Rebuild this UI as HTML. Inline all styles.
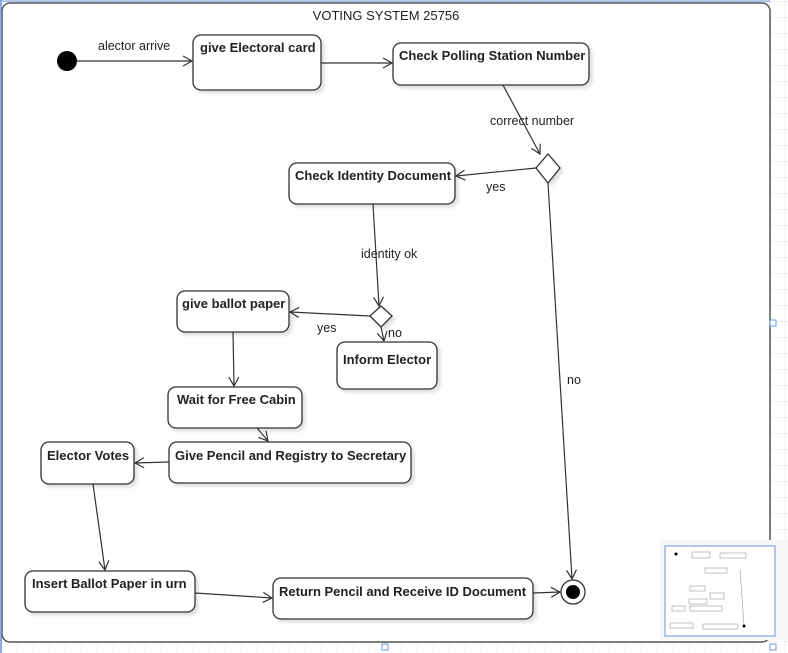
<!DOCTYPE html>
<html><head><style>
html,body{margin:0;padding:0;width:788px;height:653px;overflow:hidden;background:#fff;}
svg{display:block}
text{font-family:"Liberation Sans",Arial,sans-serif;fill:#222}
.b{font-weight:bold;font-size:13px}
.l{font-size:12.5px}
</style></head><body>
<svg width="788" height="653" viewBox="0 0 788 653">
<defs>
<pattern id="g" width="16" height="16" patternUnits="userSpaceOnUse" x="2" y="2">
<path d="M16 0V16H0" fill="none" stroke="#dde6f0" stroke-width="1"/>
</pattern>
<marker id="a" markerWidth="12" markerHeight="12" refX="10" refY="6" orient="auto" markerUnits="userSpaceOnUse">
<path d="M1 1L10 6L1 11" fill="none" stroke="#333" stroke-width="1.2"/>
</marker>
<filter id="s" x="-10%" y="-10%" width="130%" height="140%"><feDropShadow dx="3" dy="3" stdDeviation="1.5" flood-color="#000" flood-opacity="0.12"/></filter>
</defs>
<rect width="788" height="653" fill="url(#g)"/>
<rect x="2" y="3" width="768" height="639" rx="8" fill="#fff" stroke="#555" stroke-width="1.5"/>
<line x1="1" y1="0" x2="1" y2="653" stroke="#6b94d8" stroke-width="1.5"/>
<line x1="0" y1="1" x2="770" y2="1" stroke="#6b94d8" stroke-width="1"/>
<text x="386" y="20" text-anchor="middle" font-size="13">VOTING SYSTEM 25756</text>

<g fill="#fff" stroke="#333" stroke-width="1.3" filter="url(#s)">
<rect x="193" y="35" width="128" height="55" rx="8"/>
<rect x="393" y="43" width="196" height="42" rx="8"/>
<rect x="289" y="163" width="166" height="41" rx="8"/>
<rect x="177" y="291" width="112" height="41" rx="8"/>
<rect x="337" y="342" width="100" height="47" rx="8"/>
<rect x="168" y="387" width="134" height="41" rx="8"/>
<rect x="169" y="442" width="242" height="41" rx="8"/>
<rect x="41" y="442" width="93" height="42" rx="8"/>
<rect x="25" y="571" width="170" height="41" rx="8"/>
<rect x="273" y="578" width="260" height="41" rx="8"/>
<path d="M548 154L560 168L548 183L536 168Z"/>
<path d="M381 306L392 316L381 327L370 316Z"/>
</g>
<circle cx="67" cy="61" r="10" fill="#000"/>
<circle cx="573" cy="592" r="12" fill="#fff" stroke="#333" stroke-width="1.3"/>
<circle cx="573" cy="592" r="7" fill="#000"/>

<g stroke="#333" stroke-width="1.2" fill="none" marker-end="url(#a)">
<line x1="77" y1="61" x2="192" y2="61"/>
<line x1="321" y1="63" x2="392" y2="63"/>
<line x1="503" y1="85" x2="540" y2="154"/>
<line x1="536" y1="168" x2="456" y2="176"/>
<line x1="373" y1="204" x2="379" y2="306"/>
<line x1="370" y1="316" x2="290" y2="312"/>
<line x1="381" y1="327" x2="384" y2="341"/>
<line x1="233" y1="332" x2="234" y2="386"/>
<line x1="257" y1="428" x2="268" y2="441"/>
<line x1="169" y1="462" x2="135" y2="463"/>
<line x1="93" y1="484" x2="105" y2="570"/>
<line x1="195" y1="593" x2="272" y2="598"/>
<line x1="533" y1="593" x2="560" y2="592"/>
<line x1="548" y1="183" x2="572" y2="579"/>
</g>

<g class="b">
<text x="200" y="52">give Electoral card</text>
<text x="399" y="60">Check Polling Station Number</text>
<text x="295" y="180">Check Identity Document</text>
<text x="182" y="308">give ballot paper</text>
<text x="343" y="364">Inform Elector</text>
<text x="177" y="404">Wait for Free Cabin</text>
<text x="175" y="460">Give Pencil and Registry to Secretary</text>
<text x="47" y="460">Elector Votes</text>
<text x="32" y="588">Insert Ballot Paper in urn</text>
<text x="279" y="596">Return Pencil and Receive ID Document</text>
</g>
<g class="l">
<text x="98" y="50">alector arrive</text>
<text x="490" y="125">correct number</text>
<text x="486" y="191">yes</text>
<text x="361" y="258">identity ok</text>
<text x="317" y="332">yes</text>
<text x="388" y="337">no</text>
<text x="567" y="384">no</text>
</g>

<rect x="660" y="540" width="128" height="100" fill="#f6f6f6"/>
<rect x="665" y="546" width="110" height="90" fill="#fff" stroke="#6b94d8" stroke-width="1"/>
<g stroke="#999" stroke-width="0.6" fill="none">
<rect x="692" y="552" width="18" height="6"/><rect x="720" y="553" width="26" height="5"/>
<rect x="705" y="568" width="22" height="5"/><rect x="690" y="586" width="15" height="5"/>
<rect x="710" y="593" width="14" height="6"/><rect x="689" y="599" width="18" height="5"/>
<rect x="690" y="606" width="32" height="5"/><rect x="672" y="606" width="13" height="5"/>
<rect x="670" y="623" width="23" height="5"/><rect x="703" y="624" width="35" height="5"/>
<line x1="740" y1="570" x2="744" y2="625"/>
</g>
<circle cx="676" cy="554" r="1.5" fill="#000"/>
<circle cx="744" cy="626" r="1.5" fill="#000"/>
<rect x="770" y="320" width="6" height="6" fill="#fff" stroke="#6b94d8"/>
<rect x="382" y="644" width="6" height="6" fill="#fff" stroke="#6b94d8"/>
<rect x="770" y="644" width="6" height="6" fill="#fff" stroke="#6b94d8"/>
</svg>
</body></html>
